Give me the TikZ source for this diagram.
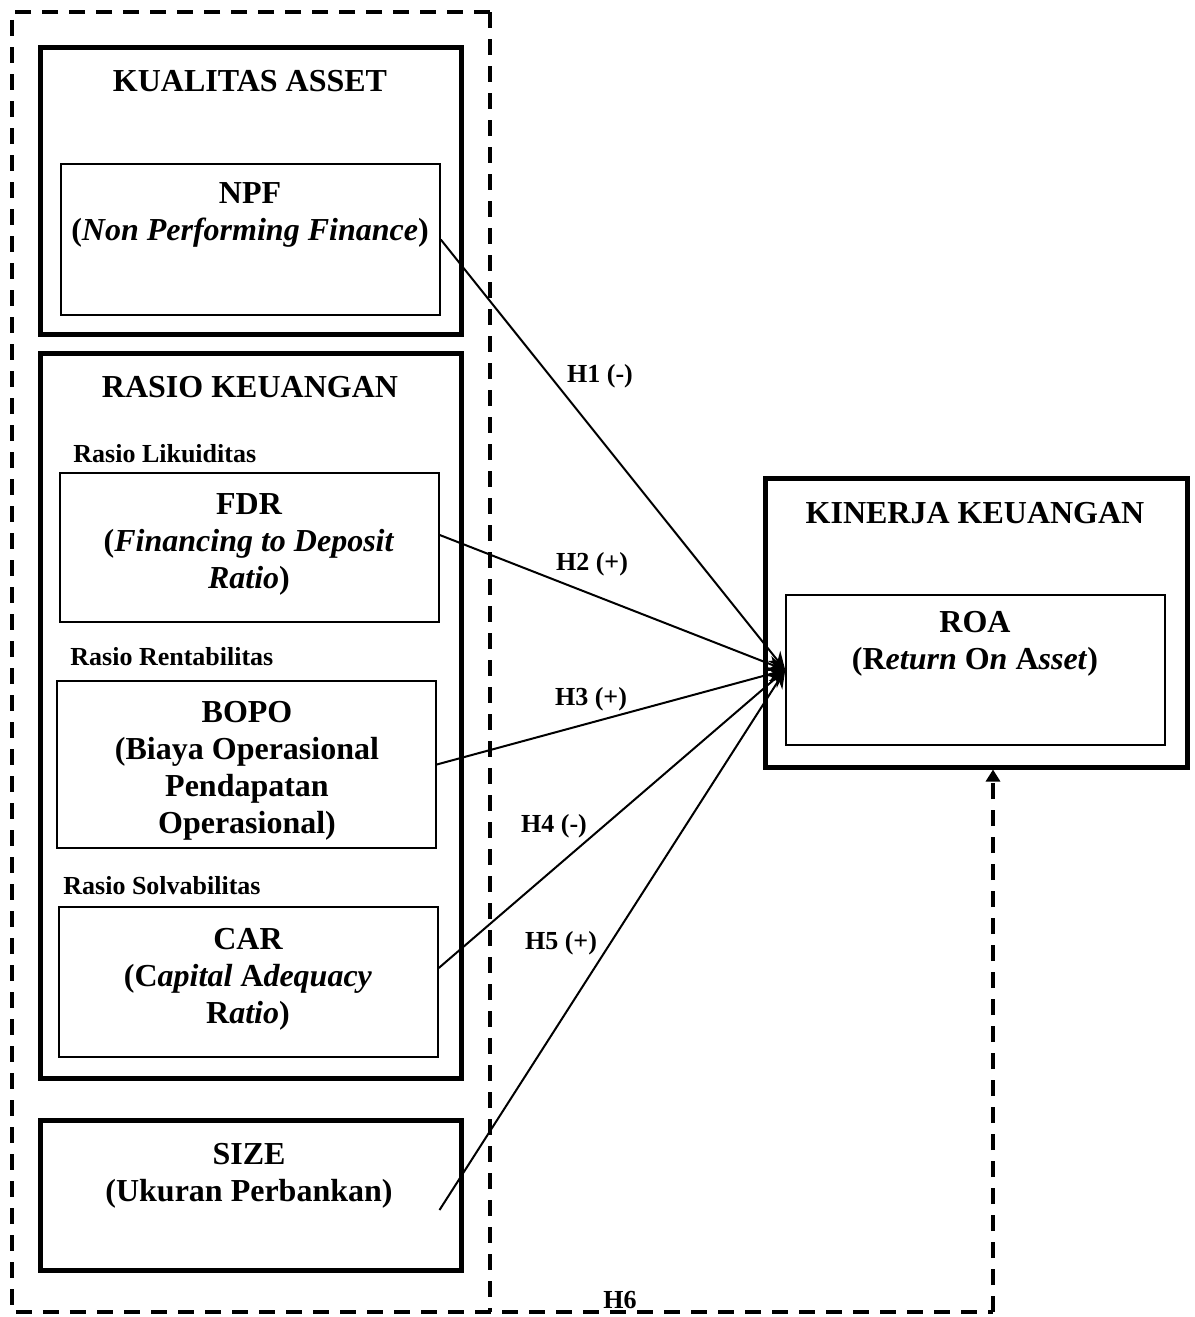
\documentclass[tikz,border=0pt]{standalone}
\usepackage{fontspec}
\setmainfont{Liberation Serif}
\usetikzlibrary{arrows.meta}
\tikzset{
  bigbox/.style={draw, line width=2.5pt, inner sep=0pt},
  smallbox/.style={draw, line width=0.75pt, inner sep=0pt},
  head/.style={font=\fontsize{16}{18.5}\selectfont\bfseries, align=center},
  sublbl/.style={font=\fontsize{13}{15}\selectfont\bfseries, anchor=west, inner sep=0pt},
  hyp/.style={font=\fontsize{13}{15}\selectfont\bfseries, inner sep=0pt},
  dashline/.style={line width=1.75pt, dash pattern=on 8pt off 5.5pt},
  link/.style={line width=1pt, -{Stealth[length=9pt,width=8pt]}}
}
\begin{document}
\begin{tikzpicture}[x=0.5pt,y=-0.5pt]
\useasboundingbox (0,0) rectangle (1194,1317);
\node[bigbox, minimum width=210.5pt, minimum height=143.5pt] (kual) at (250.5,190.5) {};
\node[smallbox, minimum width=189.5pt, minimum height=75.5pt] (npf) at (250.5,239.5) {};
\node[bigbox, minimum width=210.5pt, minimum height=362.5pt] (rasio) at (250.5,715.5) {};
\node[smallbox, minimum width=189.5pt, minimum height=74.5pt] (fdr) at (249.5,547.5) {};
\node[smallbox, minimum width=189.5pt, minimum height=83.5pt] (bopo) at (246.5,764.5) {};
\node[smallbox, minimum width=189.5pt, minimum height=75pt] (car) at (248.5,982) {};
\node[bigbox, minimum width=210.5pt, minimum height=75pt] (size) at (250.5,1195) {};
\node[bigbox, minimum width=211pt, minimum height=144.5pt] (kin) at (976,622.5) {};
\node[smallbox, minimum width=189.5pt, minimum height=75pt] (roa) at (975.5,670) {};

\node[head] (kualtitle) at (250,81) {KUALITAS ASSET};
\node[head] (npftext) at (250,214.5) {NPF\\(\textit{Non Performing Finance})};
\node[head] (rasiotitle) at (250,387) {RASIO KEUANGAN};
\node[sublbl] (likuid) at (73,454) {Rasio Likuiditas};
\node[head] (fdrtext) at (249,544) {FDR\\(\textit{Financing to Deposit}\\\textit{Ratio})};
\node[sublbl] (rentab) at (70,657) {Rasio Rentabilitas};
\node[head] (bopotext) at (247,770.5) {BOPO\\(Biaya Operasional\\Pendapatan\\Operasional)};
\node[sublbl] (solvab) at (63,886) {Rasio Solvabilitas};
\node[head] (cartext) at (248,979.5) {CAR\\(C\textit{apital} A\textit{dequacy}\\R\textit{atio})};
\node[head] (sizetext) at (249,1175.5) {SIZE\\(Ukuran Perbankan)};
\node[head] (kintitle) at (975,513) {KINERJA KEUANGAN};
\node[head] (roatext) at (975,644) {ROA\\(R\textit{eturn} O\textit{n} A\textit{sset})};

\draw[link] (npf.east) -- (roa.west);
\draw[link] ([yshift=6.25pt]fdr.east) -- (roa.west);
\draw[link] (bopo.east) -- (roa.west);
\draw[link] ([yshift=7pt]car.east) -- (roa.west);
\draw[link] ([xshift=-12pt,yshift=-7.5pt]size.east) -- (roa.west);

\node[hyp] (h1) at (600,376) {H1 (-)};
\node[hyp] (h2) at (592,564) {H2 (+)};
\node[hyp] (h3) at (591,699) {H3 (+)};
\node[hyp] (h4) at (554,826) {H4 (-)};
\node[hyp] (h5) at (561,943) {H5 (+)};
\node[hyp] (h6) at (620,1300) {H6};

\coordinate (topin) at (490,12);
\coordinate (botin) at (490,1312);
\coordinate (corner) at (993,1312);
\draw[dashline] (topin) -- (12,12) -- (12,1312) -- (corner);
\draw[dashline] (topin) -- (botin);
\draw[dashline, -{Triangle[length=6pt,width=7pt]}] (corner) -- (corner |- kin.south);
\end{tikzpicture}
\end{document}
